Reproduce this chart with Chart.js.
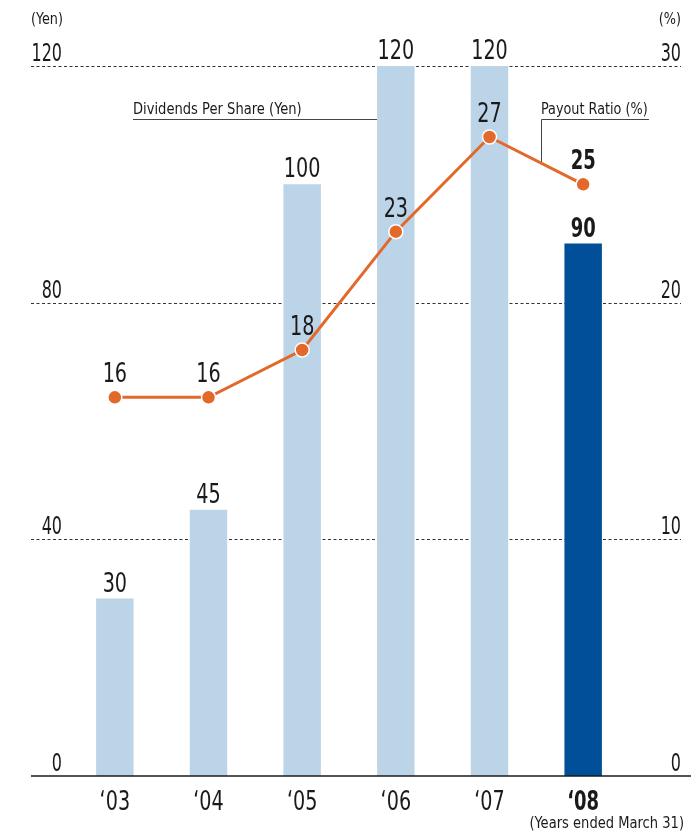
<!DOCTYPE html>
<html>
<head>
<meta charset="utf-8">
<script src="https://cdn.jsdelivr.net/npm/chart.js@4"></script>
<style>
  html, body { margin: 0; padding: 0; background: #fff; }
  #wrap { width: 691px; height: 832px; }
</style>
</head>
<body>
<div id="wrap"><canvas id="c" width="691" height="832"></canvas></div>
<script>
const categories = ["\u201803", "\u201804", "\u201805", "\u201806", "\u201807", "\u201808"];
const dividends = [30, 45, 100, 120, 120, 90];
const payoutRatio = [16, 16, 18, 23, 27, 25];
const leftTicks = [0, 40, 80, 120];
const rightTicks = [0, 10, 20, 30];
const barColors = ["#bcd4e8", "#bcd4e8", "#bcd4e8", "#bcd4e8", "#bcd4e8", "#004f98"];
const highlightIndex = 5;

const FONT = "'Liberation Sans Narrow', 'DejaVu Sans Condensed', 'Roboto', sans-serif";
const TEXT = "#1a1a1a";
function setFont(ctx, size, bold) {
  ctx.font = (bold ? "bold " : "") + size + "px " + FONT;
}
// draw text squeezed horizontally to mimic a condensed face
function sText(ctx, str, x, y, align, sx) {
  ctx.save();
  ctx.translate(x, y);
  ctx.scale(sx, 1);
  ctx.textAlign = align;
  ctx.fillText(str, 0, 0);
  ctx.restore();
}

const decor = {
  id: "decor",
  beforeDatasetsDraw(chart) {
    const ctx = chart.ctx;
    const y = chart.scales.y;
    const x0 = 31, x1 = 681;
    ctx.save();
    ctx.strokeStyle = "#333";
    ctx.lineWidth = 1;
    ctx.setLineDash([3, 2.5]);
    leftTicks.forEach(v => {
      if (v === 0) return;
      const py = Math.round(y.getPixelForValue(v)) + 0.5;
      ctx.beginPath(); ctx.moveTo(x0, py); ctx.lineTo(x1, py); ctx.stroke();
    });
    ctx.setLineDash([]);
    const barMeta = chart.getDatasetMeta(1);
    const b3 = barMeta.data[3];
    ctx.strokeStyle = "#444";
    ctx.lineWidth = 1;
    ctx.beginPath(); ctx.moveTo(133, 119.5); ctx.lineTo(b3.x - b3.width / 2, 119.5); ctx.stroke();
    const lm = chart.getDatasetMeta(0);
    const p4 = lm.data[4], p5 = lm.data[5];
    const lx = 541.5;
    const ly = p4.y + (p5.y - p4.y) * (lx - p4.x) / (p5.x - p4.x);
    ctx.beginPath(); ctx.moveTo(649, 119.5); ctx.lineTo(lx, 119.5); ctx.lineTo(lx, ly); ctx.stroke();
    ctx.restore();
  },
  afterDatasetsDraw(chart) {
    const ctx = chart.ctx;
    const y = chart.scales.y, y1 = chart.scales.y1;
    ctx.save();
    ctx.strokeStyle = TEXT;
    ctx.lineWidth = 1.5;
    const by = y.getPixelForValue(0);
    ctx.beginPath(); ctx.moveTo(31, by); ctx.lineTo(691, by); ctx.stroke();

    ctx.fillStyle = TEXT;
    ctx.textBaseline = "alphabetic";
    const TS = 0.74, DS = 0.82, BS = 0.77;
    setFont(ctx, 24, false);
    leftTicks.forEach(v => sText(ctx, String(v), 62, y.getPixelForValue(v) - 5, "right", TS));
    rightTicks.forEach(v => sText(ctx, String(v), 681, y1.getPixelForValue(v) - 5, "right", TS));

    setFont(ctx, 15, false);
    sText(ctx, "(Yen)", 31, 24, "left", 0.95);
    sText(ctx, "(%)", 681, 24, "right", 0.95);

    const barMeta = chart.getDatasetMeta(1);
    categories.forEach((c, i) => {
      const bold = i === highlightIndex;
      setFont(ctx, 26, bold);
      sText(ctx, c, barMeta.data[i].x, 810, "center", bold ? BS : DS);
    });
    setFont(ctx, 15, false);
    sText(ctx, "(Years ended March 31)", 684, 828, "right", 0.97);

    dividends.forEach((v, i) => {
      const b = barMeta.data[i];
      const bold = i === highlightIndex;
      setFont(ctx, 26, bold);
      sText(ctx, String(v), b.x, b.y - 7, "center", bold ? BS : DS);
    });
    const lm = chart.getDatasetMeta(0);
    payoutRatio.forEach((v, i) => {
      const p = lm.data[i];
      const bold = i === highlightIndex;
      setFont(ctx, 26, bold);
      sText(ctx, String(v), p.x, p.y - 15, "center", bold ? BS : DS);
    });
    setFont(ctx, 16, false);
    sText(ctx, "Dividends Per Share (Yen)", 133, 114, "left", 0.91);
    sText(ctx, "Payout Ratio (%)", 541, 114, "left", 0.89);
    ctx.restore();
  }
};

new Chart(document.getElementById("c"), {
  data: {
    labels: categories,
    datasets: [
      {
        type: "line",
        label: "Payout Ratio (%)",
        data: payoutRatio,
        yAxisID: "y1",
        borderColor: "#e2692a",
        borderWidth: 3,
        pointRadius: 7,
        pointBackgroundColor: "#e2692a",
        pointBorderColor: "#ffffff",
        pointBorderWidth: 1.5,
        tension: 0,
        order: 0
      },
      {
        type: "bar",
        label: "Dividends Per Share (Yen)",
        data: dividends,
        yAxisID: "y",
        backgroundColor: barColors,
        borderWidth: 0,
        categoryPercentage: 1,
        barPercentage: 0.4,
        order: 1
      }
    ]
  },
  options: {
    responsive: false,
    animation: false,
    devicePixelRatio: 1,
    layout: { padding: { left: 68, right: 61, top: 66, bottom: 56 } },
    plugins: { legend: { display: false }, tooltip: { enabled: false } },
    scales: {
      x: { type: "category", display: false, offset: true },
      y: { type: "linear", display: false, min: 0, max: 120 },
      y1: { type: "linear", display: false, min: 0, max: 30, position: "right" }
    }
  },
  plugins: [decor]
});
</script>
</body>
</html>
